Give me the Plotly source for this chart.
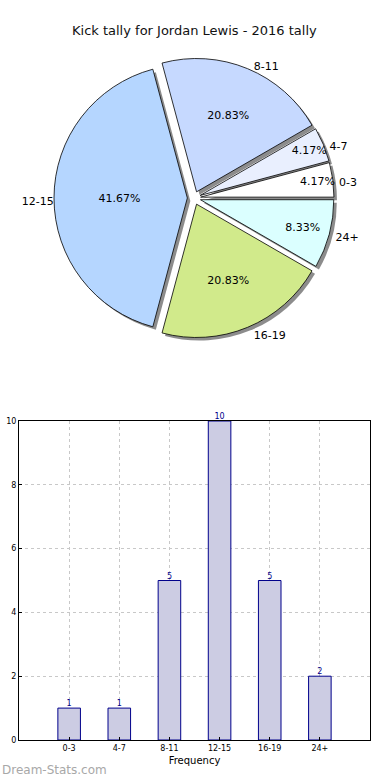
import plotly.graph_objects as go

categories = ["0-3", "4-7", "8-11", "12-15", "16-19", "24+"]
counts = [1, 1, 5, 10, 5, 2]
pie_colors = ["#ffffff", "#e9effe", "#c6d9ff", "#b5d6ff", "#d1ea8b", "#dbffff"]
title_text = "Kick tally for Jordan Lewis - 2016 tally"
y_ticks = [0, 2, 4, 6, 8, 10]

FONT = "DejaVu Sans"
W, H = 390, 780
ML, MR, MT, MB = 19, 20, 0, 40
PW, PH = W - ML - MR, H - MT - MB

def px_x(a, b):
    return [(a - ML) / PW, (b - ML) / PW]

def px_y(top, bottom):
    return [1 - (bottom - MT) / PH, 1 - (top - MT) / PH]

cx, cy, half = 194, 198, 140
pull = 0.05
sh = 3
rot = 75

fig = go.Figure()

# shadow pie (also carries the outside labels)
fig.add_trace(go.Pie(
    labels=categories, values=counts, sort=False, direction="counterclockwise",
    rotation=rot, pull=pull,
    marker=dict(colors=["rgba(0,0,0,0.45)"] * len(counts), line=dict(width=0)),
    texttemplate="%{label}", textposition="outside",
    textfont=dict(family=FONT, size=11, color="black"),
    domain=dict(x=px_x(cx - half + sh, cx + half + sh), y=px_y(cy - half + sh, cy + half + sh)),
    showlegend=False, hoverinfo="skip", automargin=False,
))

fig.add_trace(go.Pie(
    labels=categories, values=counts, sort=False, direction="counterclockwise",
    rotation=rot, pull=pull,
    marker=dict(colors=pie_colors, line=dict(color="black", width=0.8)),
    texttemplate="%{percent:.2%}", textposition="inside", insidetextorientation="horizontal",
    textfont=dict(family=FONT, size=11, color="black"),
    domain=dict(x=px_x(cx - half, cx + half), y=px_y(cy - half, cy + half)),
    showlegend=False, automargin=False,
))

fig.add_trace(go.Bar(
    x=categories, y=counts, width=0.45,
    marker=dict(color="#ccccE3", line=dict(color="#00008b", width=1)),
    xaxis="x", yaxis="y", showlegend=False, hoverinfo="x+y",
))

fig.add_trace(go.Scatter(
    x=categories, y=counts, mode="text", text=[str(c) for c in counts],
    textposition="top center", cliponaxis=False,
    textfont=dict(family=FONT, size=8, color="#00008b"),
    xaxis="x", yaxis="y", showlegend=False, hoverinfo="skip",
))

fig.update_layout(
    width=W, height=H, margin=dict(l=ML, r=MR, t=MT, b=MB, autoexpand=False),
    paper_bgcolor="white", plot_bgcolor="white",
    font=dict(family=FONT, color="black"),
    uniformtext=dict(minsize=11, mode="show"),
    xaxis=dict(domain=[0, 1], anchor="y", range=[-1, 6], type="category", automargin=False,
               showline=True, mirror=True, linecolor="black", linewidth=1,
               showgrid=True, gridcolor="#c8c8c8", griddash="dot", gridwidth=1,
               ticks="inside", ticklen=3, tickcolor="black",
               tickfont=dict(size=8, family=FONT),
               title=dict(text="Frequency", font=dict(size=10, family=FONT), standoff=5),
               zeroline=False),
    yaxis=dict(domain=px_y(421, 740), anchor="x", range=[0, 10], tickvals=y_ticks, automargin=False,
               showline=True, mirror=True, linecolor="black", linewidth=1,
               showgrid=True, gridcolor="#c8c8c8", griddash="dot", gridwidth=1,
               ticks="inside", ticklen=3, tickcolor="black",
               tickfont=dict(size=8, family=FONT), zeroline=False),
    annotations=[
        dict(text=title_text, x=(194.5 - ML) / PW, y=1 - (30 - MT) / PH, xref="paper", yref="paper",
             showarrow=False, xanchor="center", yanchor="middle",
             font=dict(size=13, family=FONT, color="#111")),
        dict(text="Dream-Stats.com", x=-ML / PW, y=1 - (770 - MT) / PH, xref="paper", yref="paper",
             showarrow=False, xanchor="left", yanchor="middle",
             font=dict(size=12, family=FONT, color="#a8a8a8")),
    ],
)

fig.write_html("out.html", config={"displayModeBar": False},
               post_script="document.body.style.margin='0';")
